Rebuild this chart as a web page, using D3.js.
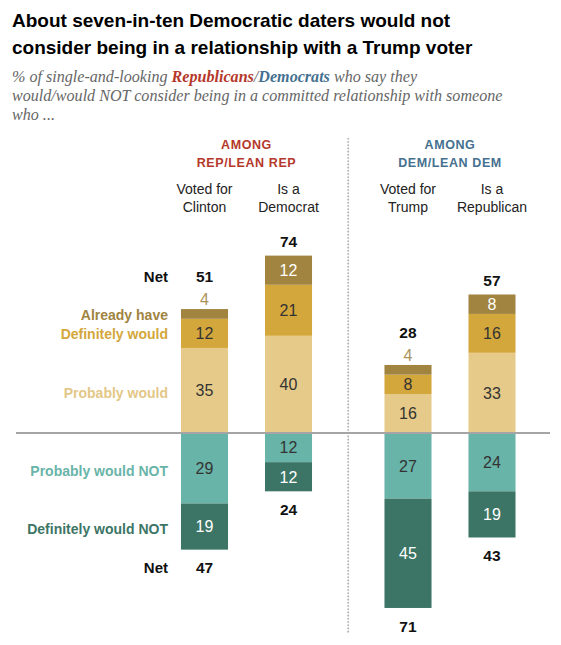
<!DOCTYPE html>
<html>
<head>
<meta charset="utf-8">
<script src="https://cdn.jsdelivr.net/npm/d3@7"></script>
<style>
  html, body { margin: 0; padding: 0; background: #fff; }
  svg { display: block; }
</style>
</head>
<body>
<svg id="chart" width="561" height="645"></svg>
<script>
// ---------- DATA ----------
const categoriesLine1 = ["Voted for", "Is a", "Voted for", "Is a"];
const categoriesLine2 = ["Clinton", "Democrat", "Trump", "Republican"];
const categories = ["Voted for Clinton", "Is a Democrat", "Voted for Trump", "Is a Republican"];
const groupOfCategory = ["rep", "rep", "dem", "dem"];
const groups = ["rep", "dem"];
const groupHeader1 = ["AMONG", "AMONG"];
const groupHeader2 = ["REP/LEAN REP", "DEM/LEAN DEM"];

const alreadyHave     = [4, 12, 4, 8];
const definitelyWould = [12, 21, 8, 16];
const probablyWould   = [35, 40, 16, 33];
const probablyNot     = [29, 12, 27, 24];
const definitelyNot   = [19, 12, 45, 19];
const netWould        = [51, 74, 28, 57];
const netNot          = [47, 24, 71, 43];

const seriesNames = ["Already have", "Definitely would", "Probably would", "Probably would NOT", "Definitely would NOT"];

// ---------- SETUP ----------
const svg = d3.select("#chart");
const barColor = {
  "Already have": "#a0843f",
  "Definitely would": "#d3a73b",
  "Probably would": "#e6ca89",
  "Probably would NOT": "#69b4a9",
  "Definitely would NOT": "#3c7565"
};
const labelColor = {
  "Already have": "#a0843f",
  "Definitely would": "#d3a73b",
  "Probably would": "#e3c787",
  "Probably would NOT": "#69b4a9",
  "Definitely would NOT": "#3c7565"
};
const valueColor = {
  "Already have": "#ffffff",
  "Definitely would": "#333333",
  "Probably would": "#333333",
  "Probably would NOT": "#333333",
  "Definitely would NOT": "#ffffff"
};

const sans = "'Liberation Sans', Arial, sans-serif";

// ---------- TITLE ----------
const title = svg.append("text")
  .style("font-family", sans)
  .style("font-weight", "bold").style("font-size", "19px").style("fill", "#000");
title.append("tspan").attr("x", 12).attr("y", 27).text("About seven-in-ten Democratic daters would not");
title.append("tspan").attr("x", 12).attr("y", 54).text("consider being in a relationship with a Trump voter");

const sub = svg.append("text")
  .style("font-family", "'Liberation Serif', 'Times New Roman', serif")
  .style("font-style", "italic").style("font-size", "16.1px").style("fill", "#666");
const l1 = sub.append("tspan").attr("x", 12).attr("y", 82);
l1.append("tspan").text("% of single-and-looking ");
l1.append("tspan").style("fill", "#b5382b").style("font-weight", "bold").text("Republicans");
l1.append("tspan").text("/");
l1.append("tspan").style("fill", "#45708f").style("font-weight", "bold").text("Democrats");
l1.append("tspan").text(" who say they");
sub.append("tspan").attr("x", 12).attr("y", 101).text("would/would NOT consider being in a committed relationship with someone");
sub.append("tspan").attr("x", 12).attr("y", 120).text("who ...");

// ---------- SCALES ----------
const xGroup = d3.scaleBand().domain(groups).range([162.5, 534]).paddingInner(0.1744).paddingOuter(0);
const xInner = d3.scaleBand().domain([0, 1]).range([0, xGroup.bandwidth()]).paddingInner(0.44).paddingOuter(0.22);
const barX = i => xGroup(groupOfCategory[i]) + xInner(i % 2);
const bw = xInner.bandwidth();
const baseY = 433;
const pxPerUnit = 2.43;
const y = d3.scaleLinear().domain([-100, 100]).range([baseY + 100 * pxPerUnit, baseY - 100 * pxPerUnit]);

// ---------- STACK ----------
const rows = categories.map((c, i) => ({
  i,
  "Probably would": probablyWould[i],
  "Definitely would": definitelyWould[i],
  "Already have": alreadyHave[i],
  "Probably would NOT": -probablyNot[i],
  "Definitely would NOT": -definitelyNot[i]
}));
const stack = d3.stack()
  .keys(["Probably would", "Definitely would", "Already have", "Probably would NOT", "Definitely would NOT"])
  .offset(d3.stackOffsetDiverging);
const stacked = stack(rows);

// divider
const divX = (xGroup("rep") + xGroup.bandwidth() + xGroup("dem")) / 2;
svg.append("line")
  .attr("x1", divX).attr("x2", divX).attr("y1", 138).attr("y2", 633)
  .attr("stroke", "#a8a8a8").attr("stroke-width", 1.6).attr("stroke-dasharray", "1.6,1.6");

// bars
stacked.forEach(series => {
  const key = series.key;
  svg.append("g").selectAll("rect").data(series).join("rect")
    .attr("x", (d, i) => barX(i))
    .attr("width", bw)
    .attr("y", d => y(Math.max(d[0], d[1])))
    .attr("height", d => Math.abs(y(d[0]) - y(d[1])))
    .attr("fill", barColor[key]);

  svg.append("g").selectAll("text").data(series).join("text")
    .attr("x", (d, i) => barX(i) + bw / 2)
    .attr("y", (d, i) => {
      const v = Math.abs(d[1] - d[0]);
      if (v < 6) return y(Math.max(d[0], d[1])) - 9.5;
      return y((d[0] + d[1]) / 2);
    })
    .attr("dy", "0.36em")
    .attr("text-anchor", "middle")
    .style("font-family", sans).style("font-size", "16px")
    .style("fill", d => Math.abs(d[1] - d[0]) < 6 ? "#ab935a" : valueColor[key])
    .text(d => Math.abs(d[1] - d[0]));
});

// baseline
svg.append("line")
  .attr("x1", 16).attr("x2", 550).attr("y1", y(0)).attr("y2", y(0))
  .attr("stroke", "#a5a5a5").attr("stroke-width", 2);

// net labels
const topOf = i => y(probablyWould[i] + definitelyWould[i] + alreadyHave[i]);
const bottomOf = i => y(-(probablyNot[i] + definitelyNot[i]));
svg.append("g").selectAll("text").data(netWould).join("text")
  .attr("x", (d, i) => barX(i) + bw / 2)
  .attr("y", (d, i) => topOf(i) - (alreadyHave[i] < 6 ? 32.5 : 14))
  .attr("dy", "0.36em").attr("text-anchor", "middle")
  .style("font-family", sans).style("font-size", "15.5px").style("font-weight", "bold").style("fill", "#111")
  .text(d => d);
svg.append("g").selectAll("text").data(netNot).join("text")
  .attr("x", (d, i) => barX(i) + bw / 2)
  .attr("y", (d, i) => bottomOf(i) + 18)
  .attr("dy", "0.36em").attr("text-anchor", "middle")
  .style("font-family", sans).style("font-size", "15.5px").style("font-weight", "bold").style("fill", "#111")
  .text(d => d);

// "Net" labels on left
const labelRight = barX(0) - 13;
svg.append("text").attr("x", labelRight).attr("y", topOf(0) - 32.5).attr("dy", "0.36em")
  .attr("text-anchor", "end").style("font-family", sans).style("font-size", "15px")
  .style("font-weight", "bold").style("fill", "#111").text("Net");
svg.append("text").attr("x", labelRight).attr("y", bottomOf(0) + 18).attr("dy", "0.36em")
  .attr("text-anchor", "end").style("font-family", sans).style("font-size", "15px")
  .style("font-weight", "bold").style("fill", "#111").text("Net");

// row labels (aligned with first bar segments)
const firstCol = {};
stacked.forEach(s => { firstCol[s.key] = s[0]; });
const rowLabelOffset = { "Already have": 1.5, "Definitely would": 0.5, "Probably would": 2.5, "Probably would NOT": 2.5, "Definitely would NOT": 2.5 };
seriesNames.forEach(name => {
  const d = firstCol[name];
  svg.append("text")
    .attr("x", labelRight)
    .attr("y", y((d[0] + d[1]) / 2) + rowLabelOffset[name])
    .attr("dy", "0.36em").attr("text-anchor", "end")
    .style("font-family", sans).style("font-size", "14px").style("font-weight", "bold")
    .style("fill", labelColor[name])
    .text(name);
});

// category labels
categories.forEach((c, i) => {
  const cx = barX(i) + bw / 2;
  const t = svg.append("text").attr("text-anchor", "middle")
    .style("font-family", sans).style("font-size", "14px").style("fill", "#222");
  t.append("tspan").attr("x", cx).attr("y", 189).attr("dy", "0.36em").text(categoriesLine1[i]);
  t.append("tspan").attr("x", cx).attr("y", 207).attr("dy", "0.36em").text(categoriesLine2[i]);
});

// group headers
const groupColor = { rep: "#b5382b", dem: "#45708f" };
groups.forEach((g, gi) => {
  const cx = xGroup(g) + xGroup.bandwidth() / 2;
  const t = svg.append("text").attr("text-anchor", "middle")
    .style("font-family", sans).style("font-size", "12.5px").style("font-weight", "bold")
    .style("letter-spacing", "0.6px").style("fill", groupColor[g]);
  t.append("tspan").attr("x", cx).attr("y", 144).attr("dy", "0.36em").text(groupHeader1[gi]);
  t.append("tspan").attr("x", cx).attr("y", 162).attr("dy", "0.36em").text(groupHeader2[gi]);
});
</script>
</body>
</html>
